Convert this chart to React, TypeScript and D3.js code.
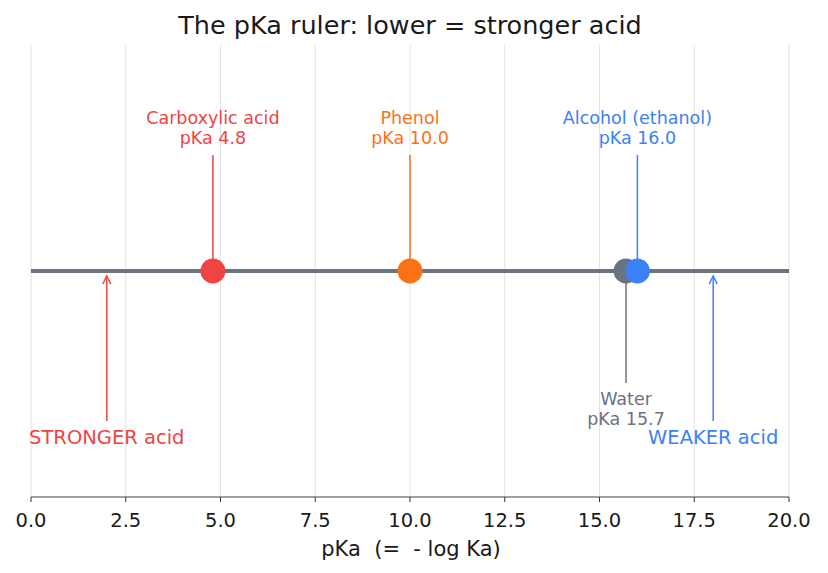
import React from "react";
import * as d3 from "d3";

const compoundNames = ["Carboxylic acid", "Phenol", "Water", "Alcohol (ethanol)"];
const compoundPka = [4.8, 10.0, 15.7, 16.0];
const compoundColors = ["#ef4444", "#f97316", "#6b7280", "#3b82f6"];
const compoundSide = ["up", "up", "down", "up"];
const directionLabels = ["STRONGER acid", "WEAKER acid"];
const directionX = [2, 18];
const directionColors = ["#ef4444", "#3b82f6"];
const xTicks = [0, 2.5, 5, 7.5, 10, 12.5, 15, 17.5, 20];

const W = 828, H = 573;
const FONT = "DejaVu Sans, sans-serif";

export default function App() {
  const x = d3.scaleLinear().domain([0, 20]).range([31, 789]);
  const y = d3.scaleLinear().domain([-1, 1]).range([497, 45]);
  const y0 = y(0);
  const order = [0, 1, 2, 3];
  return (
    <svg width={W} height={H} style={{ display: "block", margin: "-8px" }} fontFamily={FONT}>
      <rect width={W} height={H} fill="#fff" />
      <text x={410} y={34} textAnchor="middle" fontSize={25.5} fill="#1a1a1a">
        The pKa ruler: lower = stronger acid
      </text>
      {xTicks.map((t) => (
        <line key={"g" + t} x1={x(t)} x2={x(t)} y1={y(1)} y2={y(-1)} stroke="#d9d9d9" strokeWidth={0.8} />
      ))}
      <line x1={x(0)} x2={x(20)} y1={y(-1)} y2={y(-1)} stroke="#808080" strokeWidth={1.5} />
      {xTicks.map((t) => (
        <g key={"t" + t}>
          <line x1={x(t)} x2={x(t)} y1={y(-1)} y2={y(-1) + 5} stroke="#333" strokeWidth={1} />
          <text x={x(t)} y={527} textAnchor="middle" fontSize={19.5} fill="#1a1a1a">
            {t.toFixed(1)}
          </text>
        </g>
      ))}
      <text x={411} y={556} textAnchor="middle" fontSize={21} fill="#1a1a1a" style={{ whiteSpace: "pre" }}>
        {"pKa  (=  - log Ka)"}
      </text>
      <line x1={x(0)} x2={x(20)} y1={y0} y2={y0} stroke="#6b7280" strokeWidth={4} />
      {directionLabels.map((lab, i) => (
        <g key={lab}>
          <line x1={x(directionX[i])} x2={x(directionX[i])} y1={421} y2={276} stroke={directionColors[i]} strokeWidth={1.5} />
          <path
            d={`M${x(directionX[i]) - 4},${284} L${x(directionX[i])},${276} L${x(directionX[i]) + 4},${284}`}
            fill="none"
            stroke={directionColors[i]}
            strokeWidth={1.5}
          />
          <text x={x(directionX[i])} y={444} textAnchor="middle" fontSize={19.5} fill={directionColors[i]}>
            {lab}
          </text>
        </g>
      ))}
      {order.map((i) => {
        const cx = x(compoundPka[i]);
        const up = compoundSide[i] === "up";
        return (
          <line key={"l" + i} x1={cx} x2={cx} y1={up ? 155 : 383} y2={y0} stroke={compoundColors[i]} strokeWidth={1.5} />
        );
      })}
      {order.map((i) => (
        <circle key={"c" + i} cx={x(compoundPka[i])} cy={y0} r={12.5} fill={compoundColors[i]} />
      ))}
      {order.map((i) => {
        const cx = x(compoundPka[i]);
        const up = compoundSide[i] === "up";
        const ty = up ? 124 : 405;
        return (
          <text key={"t" + i} x={cx} y={ty} textAnchor="middle" fontSize={17.5} fill={compoundColors[i]}>
            <tspan x={cx}>{compoundNames[i]}</tspan>
            <tspan x={cx} dy={20}>{"pKa " + compoundPka[i].toFixed(1)}</tspan>
          </text>
        );
      })}
    </svg>
  );
}
